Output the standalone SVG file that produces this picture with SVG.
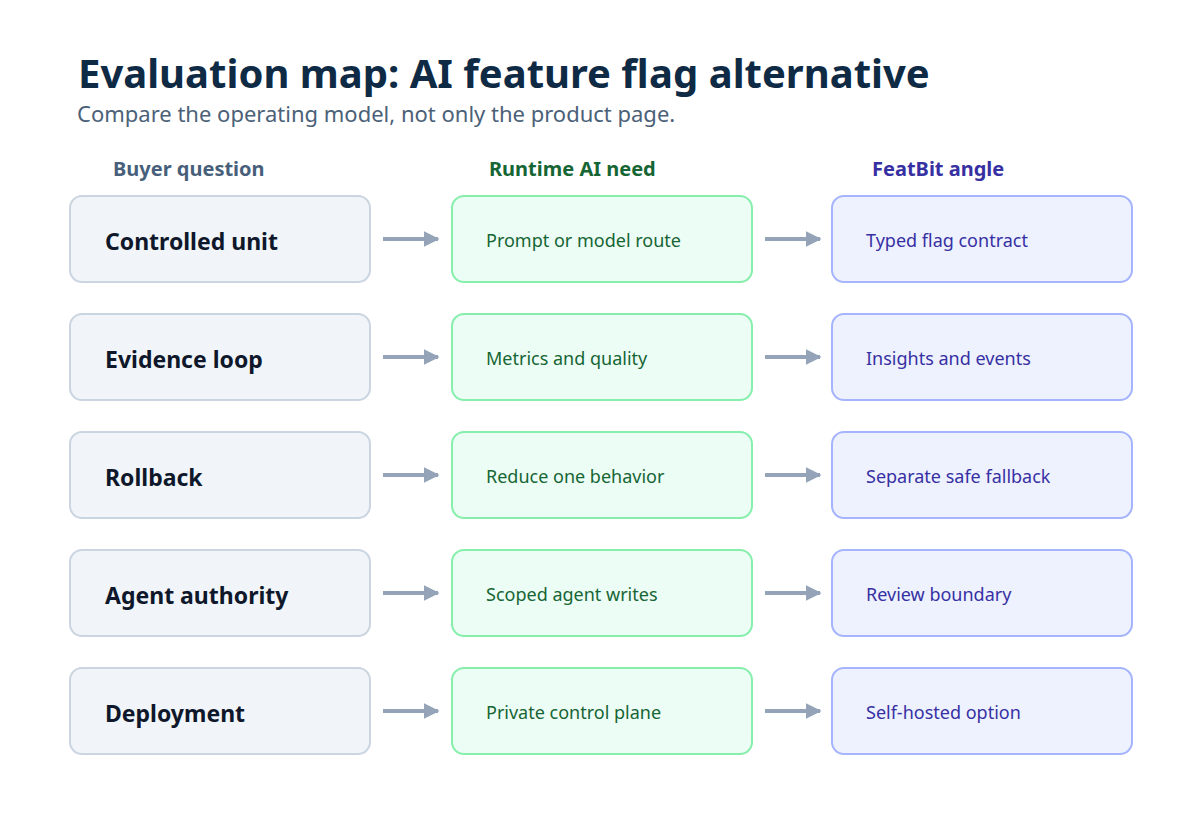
<svg xmlns="http://www.w3.org/2000/svg" width="1200" height="820" viewBox="0 0 1200 820">
<style>
text{font-family:"Noto Sans","Open Sans",sans-serif}
.t{font-size:40px;font-weight:700;fill:#0f2a44}
.s{font-size:22px;fill:#4b6178}
.h{font-size:20px;font-weight:700}
.a rect{fill:#f1f5f9;stroke:#cbd5e1;stroke-width:2}
.b rect{fill:#ecfdf5;stroke:#86efac;stroke-width:2}
.c rect{fill:#eef2ff;stroke:#a5b4fc;stroke-width:2}
.a text{font-size:23px;font-weight:700;fill:#0f172a}
.b text{font-size:18px;fill:#166534}
.c text{font-size:18px;fill:#3730a3}
.e line{stroke:#94a3b8;stroke-width:4}
</style>
<defs><marker id="ar" viewBox="0 0 10 10" refX="9" refY="5" markerWidth="4" markerHeight="4" orient="auto" markerUnits="strokeWidth"><path d="M0,0L10,5L0,10z" fill="#94a3b8"/></marker></defs>
<text class="t" x="78" y="88">Evaluation map: AI feature flag alternative</text>
<text class="s" x="77" y="122">Compare the operating model, not only the product page.</text>
<text class="h" x="113" y="176" fill="#475f7a">Buyer question</text>
<text class="h" x="489" y="176" fill="#166534">Runtime AI need</text>
<text class="h" x="872" y="176" fill="#3730a3">FeatBit angle</text>
<g class="e">
<line x1="383" y1="239" x2="438" y2="239" marker-end="url(#ar)"/><line x1="765" y1="239" x2="820" y2="239" marker-end="url(#ar)"/>
<line x1="383" y1="357" x2="438" y2="357" marker-end="url(#ar)"/><line x1="765" y1="357" x2="820" y2="357" marker-end="url(#ar)"/>
<line x1="383" y1="475" x2="438" y2="475" marker-end="url(#ar)"/><line x1="765" y1="475" x2="820" y2="475" marker-end="url(#ar)"/>
<line x1="383" y1="593" x2="438" y2="593" marker-end="url(#ar)"/><line x1="765" y1="593" x2="820" y2="593" marker-end="url(#ar)"/>
<line x1="383" y1="711" x2="438" y2="711" marker-end="url(#ar)"/><line x1="765" y1="711" x2="820" y2="711" marker-end="url(#ar)"/>
</g>
<g id="a1" class="a"><rect x="70" y="196" width="300" height="86" rx="12"/><text x="105" y="250">Controlled unit</text></g>
<g id="b1" class="b"><rect x="452" y="196" width="300" height="86" rx="12"/><text x="486" y="247">Prompt or model route</text></g>
<g id="c1" class="c"><rect x="832" y="196" width="300" height="86" rx="12"/><text x="866" y="247">Typed flag contract</text></g>
<g id="a2" class="a"><rect x="70" y="314" width="300" height="86" rx="12"/><text x="105" y="368">Evidence loop</text></g>
<g id="b2" class="b"><rect x="452" y="314" width="300" height="86" rx="12"/><text x="486" y="365">Metrics and quality</text></g>
<g id="c2" class="c"><rect x="832" y="314" width="300" height="86" rx="12"/><text x="866" y="365">Insights and events</text></g>
<g id="a3" class="a"><rect x="70" y="432" width="300" height="86" rx="12"/><text x="105" y="486">Rollback</text></g>
<g id="b3" class="b"><rect x="452" y="432" width="300" height="86" rx="12"/><text x="486" y="483">Reduce one behavior</text></g>
<g id="c3" class="c"><rect x="832" y="432" width="300" height="86" rx="12"/><text x="866" y="483">Separate safe fallback</text></g>
<g id="a4" class="a"><rect x="70" y="550" width="300" height="86" rx="12"/><text x="105" y="604">Agent authority</text></g>
<g id="b4" class="b"><rect x="452" y="550" width="300" height="86" rx="12"/><text x="486" y="601">Scoped agent writes</text></g>
<g id="c4" class="c"><rect x="832" y="550" width="300" height="86" rx="12"/><text x="866" y="601">Review boundary</text></g>
<g id="a5" class="a"><rect x="70" y="668" width="300" height="86" rx="12"/><text x="105" y="722">Deployment</text></g>
<g id="b5" class="b"><rect x="452" y="668" width="300" height="86" rx="12"/><text x="486" y="719">Private control plane</text></g>
<g id="c5" class="c"><rect x="832" y="668" width="300" height="86" rx="12"/><text x="866" y="719">Self-hosted option</text></g>
</svg>
